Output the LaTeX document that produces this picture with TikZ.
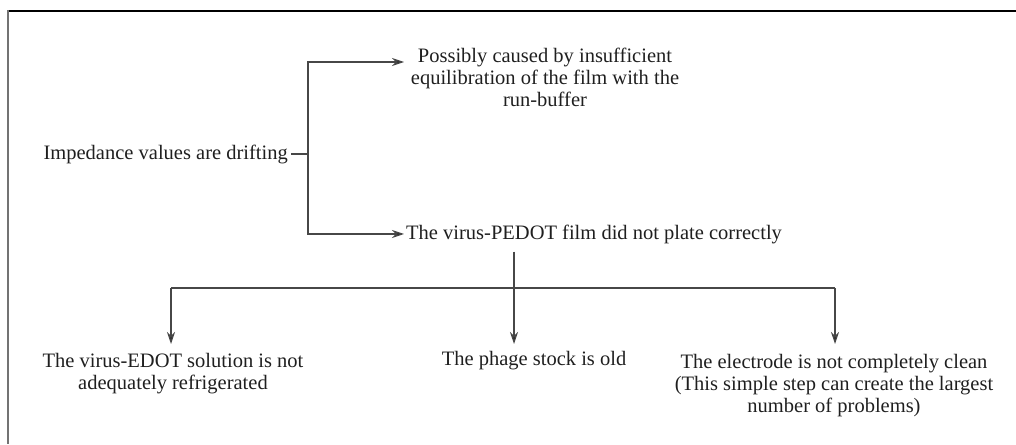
\documentclass[tikz,border=0pt]{standalone}
\usepackage{fontspec}
\setmainfont{Liberation Serif}
\usetikzlibrary{arrows.meta}
\begin{document}
\begin{tikzpicture}[x=1pt,y=-1pt,
  txt/.style={inner sep=0pt, text=black!88, font=\fontsize{20.5}{22}\selectfont},
  conn/.style={draw=black!72, line width=1.2pt},
  arr/.style={conn, -{Stealth[length=12pt,width=8pt,fill=black!85]}}]
\useasboundingbox (0,0) rectangle (1016,444);
% frame
\draw[black, line width=1.6pt] (7,11) -- (1016,11);
\draw[black!55, line width=2.4pt] (8,10.2) -- (8,444);
% nodes
\node[txt, anchor=base east] (imp) at (288,159) {Impedance values are drifting};
\node[txt, align=center, anchor=north] (possib) at (545,48) {Possibly caused by insufficient\\equilibration of the film with the\\run-buffer};
\node[txt, anchor=base west] (pedot) at (406,239) {The virus-PEDOT film did not plate correctly};
\node[txt, align=center, anchor=north] (evo) at (173,353) {The virus-EDOT solution is not\\adequately refrigerated};
\node[txt, anchor=north] (phage) at (534,351) {The phage stock is old};
\node[txt, align=center, anchor=north] (elec) at (834,354) {The electrode is not completely clean\\(This simple step can create the largest\\number of problems)};
% junction coordinates
\coordinate (j1) at (308,153);
\coordinate (pin) at (404,62);
\coordinate (bl) at (171,288);
\coordinate (bm) at (514,288);
\coordinate (br) at (835,288);
% connectors
\draw[conn, shorten <=3pt] (imp.east) -- (imp.east -| j1);
\draw[arr] (j1) |- (pin);
\draw[arr, shorten >=2pt] (j1) |- (pedot.west);
\draw[arr, shorten <=8pt, shorten >=7pt] (pedot.south -| bm) -- (bm |- phage.north);
\draw[conn] (bl) -- (br);
\draw[arr, shorten >=9pt] (bl) -- (bl |- evo.north);
\draw[arr, shorten >=10pt] (br) -- (br |- elec.north);
\end{tikzpicture}
\end{document}
